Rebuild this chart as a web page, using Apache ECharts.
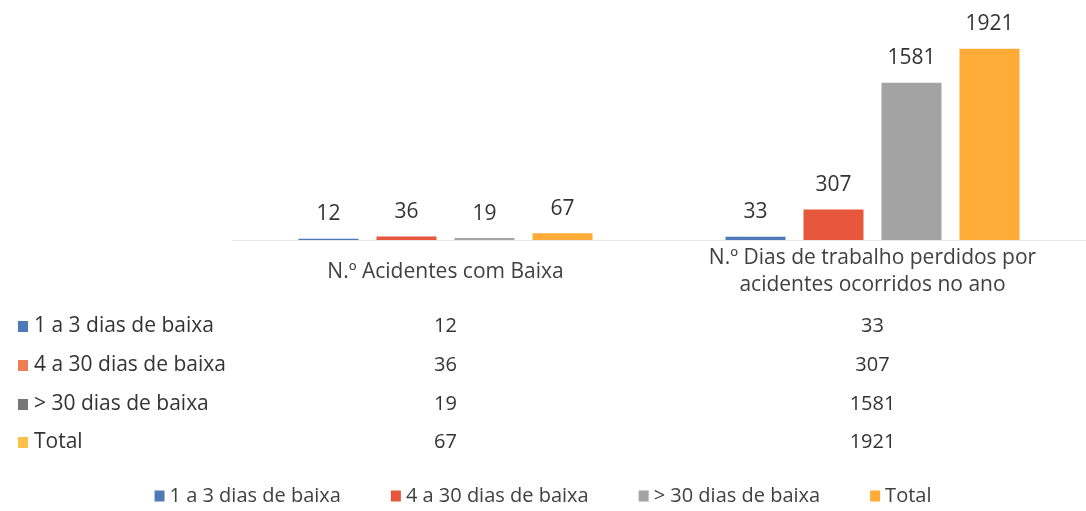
<!DOCTYPE html>
<html>
<head>
<meta charset="utf-8">
<script src="https://cdn.jsdelivr.net/npm/echarts@6/dist/echarts.min.js"></script>
<style>
    html, body { margin: 0; padding: 0; background: #fff; }
    #chart { width: 1086px; height: 511px; }
</style>
</head>
<body>
<div id="chart"></div>
<script>
    // categorias e series
    var categorias = ['N.º Acidentes com Baixa', 'N.º Dias de trabalho perdidos por\nacidentes ocorridos no ano'];
    var nomesSeries = ['1 a 3 dias de baixa', '4 a 30 dias de baixa', '> 30 dias de baixa', 'Total'];
    var baixa1a3 = [12, 33];
    var baixa4a30 = [36, 307];
    var baixaMais30 = [19, 1581];
    var total = [67, 1921];
    var cores = ['#4E79B8', '#E6573B', '#A3A3A3', '#FFAB38'];
    var coresTabela = ['#4E79B8', '#EE7F52', '#777777', '#FFC04A'];

    var valores = [baixa1a3, baixa4a30, baixaMais30, total];
    var fonte = '"Open Sans", "Noto Sans", sans-serif';

    var chart = echarts.init(document.getElementById('chart'));

    var series = [];
    for (var i = 0; i < nomesSeries.length; i++) {
        series.push({
            name: nomesSeries[i],
            type: 'bar',
            barWidth: 60,
            barGap: '30%',
            data: valores[i],
            itemStyle: { color: cores[i] },
            label: {
                show: true,
                position: 'top',
                distance: 14,
                color: '#333',
                fontSize: 21,
                fontFamily: fonte
            }
        });
    }

    var option = {
        animation: false,
        backgroundColor: '#fff',
        grid: { left: 232, right: 0, top: 41, bottom: 271, containLabel: false },
        xAxis: {
            type: 'category',
            data: categorias,
            axisLine: { lineStyle: { color: '#E8E8E8', width: 1 } },
            axisTick: { show: false },
            axisLabel: {
                color: '#404040',
                fontSize: 21,
                fontFamily: fonte,
                lineHeight: 27,
                verticalAlign: 'middle',
                margin: 32
            }
        },
        yAxis: {
            type: 'value',
            min: 0,
            max: 2000,
            show: false,
            splitLine: { show: false }
        },
        legend: {
            bottom: 0,
            left: 'center',
            icon: 'rect',
            itemWidth: 10,
            itemHeight: 11,
            itemGap: 50,
            data: nomesSeries,
            textStyle: { color: '#404040', fontSize: 20, fontFamily: fonte }
        },
        series: series
    };
    chart.setOption(option);

    // tabela de dados por baixo do grafico
    var linhasY = [326, 365, 404, 442];
    var elementos = [];
    for (var r = 0; r < nomesSeries.length; r++) {
        var y = linhasY[r];
        elementos.push({
            type: 'rect',
            shape: { x: 18, y: y - 5, width: 10, height: 11 },
            style: { fill: coresTabela[r] }
        });
        elementos.push({
            type: 'text',
            x: 34, y: y,
            style: {
                text: nomesSeries[r],
                fill: '#333',
                font: '21px ' + fonte,
                verticalAlign: 'middle'
            }
        });
        for (var c = 0; c < categorias.length; c++) {
            var px = chart.convertToPixel({ xAxisIndex: 0 }, c);
            elementos.push({
                type: 'text',
                x: px, y: y,
                style: {
                    text: String(valores[r][c]),
                    fill: '#333',
                    font: '20px ' + fonte,
                    align: 'center',
                    verticalAlign: 'middle'
                }
            });
        }
    }
    chart.setOption({ graphic: elementos });
</script>
</body>
</html>
